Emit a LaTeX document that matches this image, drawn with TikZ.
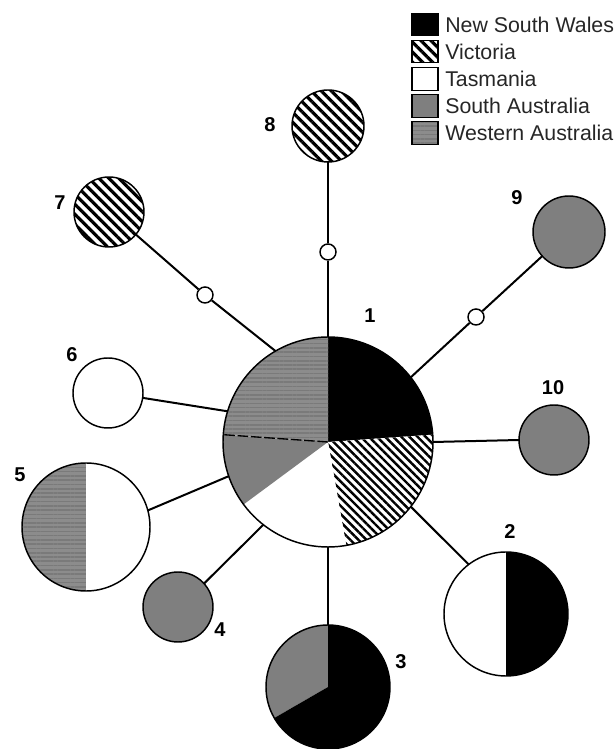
\documentclass[tikz,border=0pt]{standalone}
\usepackage{fontspec}
\setmainfont{Liberation Sans}
\usetikzlibrary{patterns.meta}
\definecolor{sagray}{RGB}{127,127,127}
\definecolor{wagray}{RGB}{140,140,140}
\definecolor{wastripe}{RGB}{122,122,122}
% filled wedge of a pie: node, radius, start angle, end angle, fill options
\newcommand\slice[5]{\fill[#5] (#1.center) -- ++(#3:#2) arc[start angle=#3,end angle=#4,radius=#2] -- cycle;}
\begin{document}
\begin{tikzpicture}[x=0.75pt,y=0.75pt,
  hub/.style={circle,inner sep=0pt,outer sep=0pt,minimum size={#1*1.5pt}},
  link/.style={line width=1.5pt},
  ring/.style={line width=1.1pt},
  mv/.style={circle,draw,fill=white,line width=1.1pt,inner sep=0pt,minimum size=12pt},
  nsw/.style={fill=black},
  vic/.style={preaction={fill=white},pattern={Lines[angle=-45,distance=5.3pt,line width=2.4pt]},pattern color=black},
  vicfine/.style={preaction={fill=white},pattern={Lines[angle=-45,distance=4.3pt,line width=1.8pt]},pattern color=black},
  tas/.style={fill=white},
  sa/.style={fill=sagray},
  wa/.style={preaction={fill=wagray},pattern={Lines[angle=0,distance=3.2pt,line width=1.2pt]},pattern color=wastripe},
  num/.style={font=\bfseries\fontsize{15}{15}\selectfont},
  legbox/.style={draw,line width=0.8pt,minimum width=19.5pt,minimum height=17pt,inner sep=0pt},
  legtext/.style={anchor=west,inner sep=0pt,font=\fontsize{16}{16}\selectfont,text=black!85}]
\useasboundingbox (0,0) rectangle (615,749);

% haplotype circles
\node[hub=105] (n1) at (328,307) {};
\node[hub=62] (n2) at (506,135) {};
\node[hub=62] (n3) at (328,62) {};
\node[hub=35] (n4) at (178,142) {};
\node[hub=64] (n5) at (86,222) {};
\node[hub=35] (n6) at (108,356) {};
\node[hub=35] (n7) at (109,537) {};
\node[hub=36] (n8) at (328,623) {};
\node[hub=36] (n9) at (569,517) {};
\node[hub=35] (n10) at (554,309) {};

% missing intermediate haplotypes
\node[mv] (m7) at (205,454) {};
\node[mv] (m8) at (328,497) {};
\node[mv] (m9) at (476,432) {};

% connections
\draw[link] (n1.120) -- (m7) -- (n7.-40);
\draw[link] (n1.north) -- (m8) -- (n8.south);
\draw[link] (n1.38) -- (m9) -- (n9.222);
\draw[link] (n1.east) -- (n10.west);
\draw[link] (n1.-38) -- (n2.127);
\draw[link] (n1.south) -- (n3.north);
\draw[link] (n1.232) -- (n4.42);
\draw[link] (n1.199) -- (n5.15);
\draw[link] (n1.163) -- (n6.-8);

% pie 1
\slice{n1}{105}{4}{90}{nsw}
\slice{n1}{105}{-80}{4}{vicfine}
\slice{n1}{105}{-143.5}{-80}{tas}
\slice{n1}{105}{176}{216.5}{sa}
\slice{n1}{105}{90}{176}{wa}
\draw[line width=1pt,dash pattern=on 8pt off 2pt] (n1.center) -- ++(176:105);
% pie 2
\slice{n2}{62}{90}{270}{tas}
\slice{n2}{62}{-90}{90}{nsw}
% pie 3
\slice{n3}{62}{90}{210}{sa}
\slice{n3}{62}{210}{450}{nsw}
% pie 5
\slice{n5}{64}{90}{270}{wa}
\slice{n5}{64}{-90}{90}{tas}
% single-region circles
\fill[sa] (n4.center) circle[radius=35];
\fill[tas] (n6.center) circle[radius=35];
\fill[vic] (n7.center) circle[radius=35];
\fill[vic] (n8.center) circle[radius=36];
\fill[sa] (n9.center) circle[radius=36];
\fill[sa] (n10.center) circle[radius=35];

% outlines
\draw[ring] (n1.center) circle[radius=105];
\draw[ring] (n2.center) circle[radius=62];
\draw[ring] (n3.center) circle[radius=62];
\draw[ring] (n4.center) circle[radius=35];
\draw[ring] (n5.center) circle[radius=64];
\draw[ring] (n6.center) circle[radius=35];
\draw[ring] (n7.center) circle[radius=35];
\draw[ring] (n8.center) circle[radius=36];
\draw[ring] (n9.center) circle[radius=36];
\draw[ring] (n10.center) circle[radius=35];

% labels
\node[num] (l1) at (370,433) {1};
\node[num] (l2) at (510,217) {2};
\node[num] (l3) at (401,87) {3};
\node[num] (l4) at (220,119) {4};
\node[num] (l5) at (20,274) {5};
\node[num] (l6) at (72,394) {6};
\node[num] (l7) at (60,546) {7};
\node[num] (l8) at (270,624) {8};
\node[num] (l9) at (517,551) {9};
\node[num] (l10) at (553,361) {10};

% legend
\node[legbox,nsw] (k1) at (425,724.5) {};
\node[legbox,vic] (k2) at (425,697.5) {};
\node[legbox,tas] (k3) at (425,670) {};
\node[legbox,sa] (k4) at (425,643) {};
\node[legbox,wa] (k5) at (425,616) {};
\node[legtext] (t1) at (445,724.5) {New South Wales};
\node[legtext] (t2) at (445,697.5) {Victoria};
\node[legtext] (t3) at (445,670) {Tasmania};
\node[legtext] (t4) at (445,643) {South Australia};
\node[legtext] (t5) at (445,616) {Western Australia};
\end{tikzpicture}
\end{document}
